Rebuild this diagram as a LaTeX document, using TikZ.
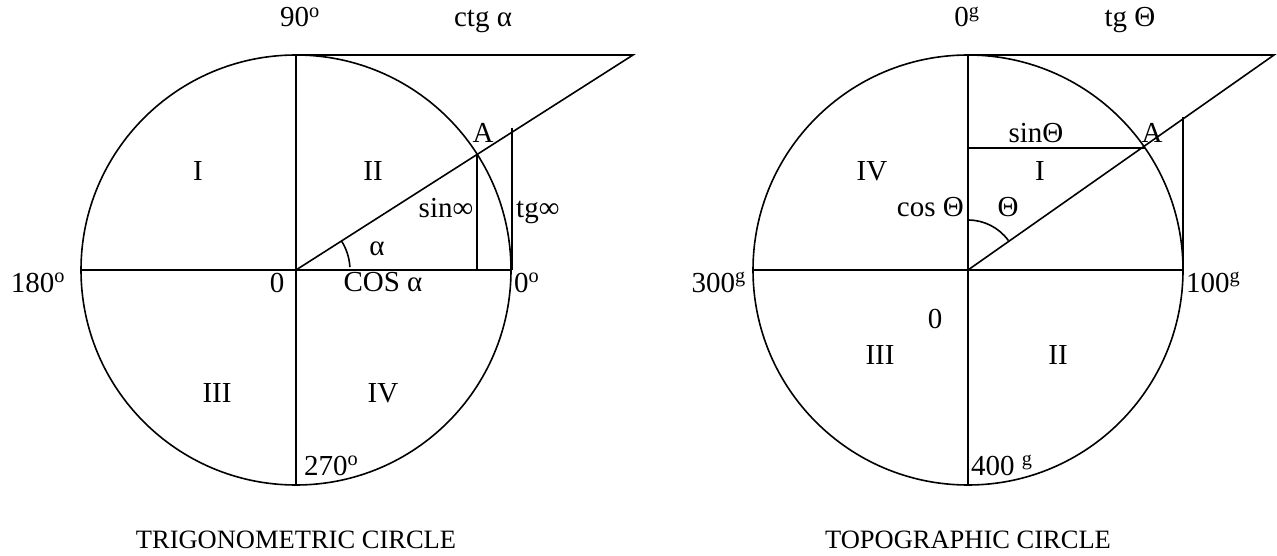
\documentclass[tikz,border=0pt]{standalone}
\usepackage{fontspec}
\setmainfont{Liberation Serif}
\usetikzlibrary{calc}
\begin{document}
\begin{tikzpicture}[x=1pt,y=-1pt,
  ln/.style={line width=1.6pt,black},
  lbl/.style={anchor=base,inner sep=0pt,font=\fontsize{29}{32}\selectfont},
  ttl/.style={anchor=base,inner sep=0pt,font=\fontsize{26.5}{30}\selectfont}]
\useasboundingbox (0,0) rectangle (1277,556);
% ---------------- left: trigonometric circle
\coordinate (O1) at (296,270);
\coordinate (T1) at (296,55);
\coordinate (B1) at (296,485);
\coordinate (L1) at (81,270);
\coordinate (R1) at (511,270);
\coordinate (E1) at (633,55);
\coordinate (A1) at (477,154.5);
\coordinate (S1) at (477,270);
\coordinate (G1t) at (512,128);
\coordinate (G1b) at (512,270);
\coordinate (a1s) at ($(O1)+(45.5,-29)$);
\draw[ln] (O1) circle (215);
\draw[ln] (T1) -- (B1);
\draw[ln] (L1) -- (R1);
\draw[ln] (T1) -- (E1) -- (O1);
\draw[ln] (A1) -- (S1);
\draw[ln] (G1t) -- (G1b);
\draw[ln] (a1s) arc[start angle=-32.5,end angle=-3,radius=54];
\node[lbl] (n90) at (300,27) {90\textsuperscript{o}};
\node[lbl] (nctg) at (483,27) {ctg α};
\node[lbl] (nA1) at (483,143) {A};
\node[lbl] (nsin1) at (446,218) {sin∞};
\node[lbl,anchor=base west] (ntg1) at (516,218) {tg∞};
\node[lbl] (nalpha) at (377,255) {α};
\node[lbl] (ncos1) at (383,291) {COS α};
\node[lbl] (nzero1) at (277,292) {0};
\node[lbl,anchor=base west] (n0deg) at (514,292) {0\textsuperscript{o}};
\node[lbl] (n180) at (38,292) {180\textsuperscript{o}};
\node[lbl] (q1) at (198,181) {I};
\node[lbl] (q2) at (373,181) {II};
\node[lbl] (q3) at (217,402) {III};
\node[lbl] (q4) at (383,402) {IV};
\node[lbl,anchor=base west] (n270) at (304,475) {270\textsuperscript{o}};
\node[ttl] (t1) at (296,548) {TRIGONOMETRIC CIRCLE};
% ---------------- right: topographic circle
\coordinate (O2) at (968,270);
\coordinate (T2) at (968,55);
\coordinate (B2) at (968,485);
\coordinate (L2) at (753,270);
\coordinate (R2) at (1183,270);
\coordinate (E2) at (1274,55);
\coordinate (A2) at (1144.5,148);
\coordinate (S2) at (968,148);
\coordinate (G2t) at (1183,117);
\coordinate (G2b) at (1183,270);
\draw[ln] (O2) circle (215);
\draw[ln] (T2) -- (B2);
\draw[ln] (L2) -- (R2);
\draw[ln] (T2) -- (E2) -- (O2);
\draw[ln] (S2) -- (A2);
\draw[ln] (G2t) -- (G2b);
\draw[ln] (968,220) arc[start angle=-90,end angle=-36,radius=50];
\node[lbl] (n0g) at (967,27) {0\textsuperscript{g}};
\node[lbl] (ntgT) at (1130,27) {tg Θ};
\node[lbl] (nsin2) at (1036,143) {sinΘ};
\node[lbl] (nA2) at (1152,143) {A};
\node[lbl] (p1) at (1040,181) {I};
\node[lbl] (ntheta) at (1008,217) {Θ};
\node[lbl,anchor=base east] (ncos2) at (964,217) {cos Θ};
\node[lbl] (p4) at (872,181) {IV};
\node[lbl,anchor=base east] (n300) at (746,292) {300\textsuperscript{g}};
\node[lbl,anchor=base west] (n100) at (1186,292) {100\textsuperscript{g}};
\node[lbl] (nzero2) at (935,328) {0};
\node[lbl] (p2) at (1058,364) {II};
\node[lbl] (p3) at (880,364) {III};
\node[lbl,anchor=base west] (n400) at (971,475) {400 \textsuperscript{g}};
\node[ttl] (t2) at (968,548) {TOPOGRAPHIC CIRCLE};
\end{tikzpicture}
\end{document}
